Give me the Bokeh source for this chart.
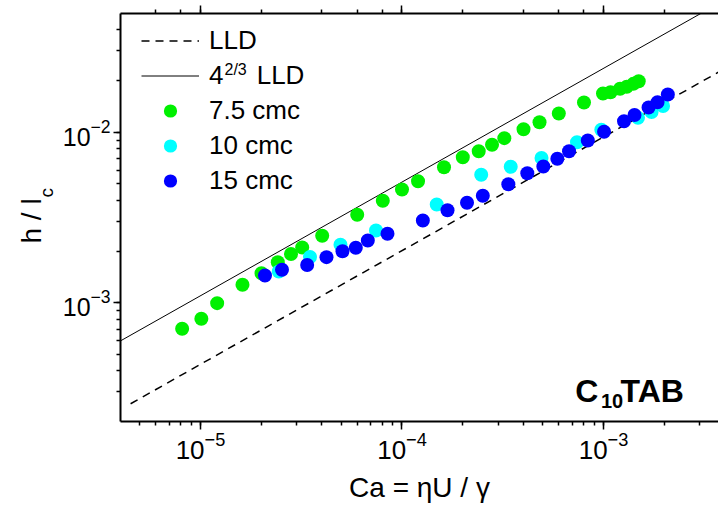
import math
from bokeh.plotting import figure
from bokeh.models import LogAxis, Legend, LegendItem, Label, Range1d
from bokeh.embed import file_html
from bokeh.resources import INLINE

# ---- data ----
ca_75 = [8.11e-6, 1.01e-5, 1.21e-5, 1.616e-5, 2.008e-5, 2.419e-5, 2.813e-5, 3.197e-5,
         4.018e-5, 5.995e-5, 8.03e-5, 1.0e-4, 1.201e-4, 1.616e-4, 2.003e-4, 2.403e-4,
         2.797e-4, 3.219e-4, 4.009e-4, 4.813e-4, 6.0e-4, 8.0e-4, 9.94e-4, 1.083e-3,
         1.208e-3, 1.304e-3, 1.406e-3, 1.495e-3]
h_75 = [7.04e-4, 8.06e-4, 9.95e-4, 1.275e-3, 1.491e-3, 1.730e-3, 1.932e-3, 2.110e-3,
        2.47e-3, 3.284e-3, 3.967e-3, 4.615e-3, 5.162e-3, 6.227e-3, 7.137e-3, 7.727e-3,
        8.44e-3, 9.23e-3, 1.040e-2, 1.144e-2, 1.287e-2, 1.493e-2, 1.686e-2, 1.716e-2,
        1.797e-2, 1.848e-2, 1.921e-2, 1.988e-2]

ca_10 = [2.447e-5, 3.495e-5, 4.952e-5, 7.43e-5, 1.487e-4, 2.472e-4, 3.464e-4, 4.924e-4,
         7.386e-4, 9.75e-4, 1.483e-3, 1.731e-3, 1.974e-3]
h_10 = [1.526e-3, 1.856e-3, 2.188e-3, 2.653e-3, 3.769e-3, 5.628e-3, 6.268e-3, 7.06e-3,
        8.74e-3, 1.034e-2, 1.214e-2, 1.314e-2, 1.424e-2]

ca_15 = [2.09e-5, 2.538e-5, 3.384e-5, 4.22e-5, 5.066e-5, 5.899e-5, 6.767e-5, 8.472e-5,
         1.269e-4, 1.682e-4, 2.102e-4, 2.518e-4, 3.37e-4, 4.186e-4, 5.027e-4, 5.9e-4,
         6.743e-4, 8.357e-4, 1.006e-3, 1.264e-3, 1.425e-3, 1.673e-3, 1.854e-3, 2.085e-3]
h_15 = [1.445e-3, 1.561e-3, 1.666e-3, 1.851e-3, 2.006e-3, 2.101e-3, 2.318e-3, 2.538e-3,
        3.037e-3, 3.49e-3, 3.862e-3, 4.238e-3, 4.957e-3, 5.75e-3, 6.293e-3, 6.994e-3,
        7.727e-3, 8.94e-3, 1.007e-2, 1.160e-2, 1.261e-2, 1.395e-2, 1.497e-2, 1.663e-2]

# reference lines (end points)
lld_ca = [4.5e-6, 3.72e-3]
lld_h = [2.56e-4, 2.25e-2]
lld4_ca = [3.9e-6, 3.2e-3]
lld4_h = [5.87e-4, 5.14e-2]

series_labels = ["LLD", "4\u2003\u00a0LLD", "7.5 cmc", "10 cmc", "15 cmc"]
series_colors = ["#00F000", "#00FFFF", "#0000FF"]

x_range = (4.01e-6, 3.72e-3)
y_range = (2.014e-4, 4.964e-2)

FONT = "Liberation Sans"

p = figure(width=718, height=513, x_axis_type="log", y_axis_type="log",
           x_range=Range1d(*x_range), y_range=Range1d(*y_range),
           output_backend="svg", toolbar_location=None,
           min_border_left=120, min_border_right=0, min_border_top=13, min_border_bottom=92)
p.outline_line_color = None
p.grid.visible = False
p.background_fill_color = "white"
p.border_fill_color = "white"

# axes styling
for ax in (p.xaxis[0], p.yaxis[0]):
    ax.axis_line_width = 2
    ax.major_tick_line_width = 1.5
    ax.minor_tick_line_width = 1.5
    ax.major_tick_in = 0
    ax.minor_tick_in = 0
    ax.major_label_text_font = FONT
    ax.major_label_text_color = "black"
    ax.axis_label_text_font = FONT
    ax.axis_label_text_font_size = "28px"
    ax.axis_label_text_font_style = "normal"
    ax.axis_label_text_color = "black"

p.xaxis[0].major_label_text_font_size = "26px"
p.xaxis[0].major_tick_out = 8
p.xaxis[0].minor_tick_out = 4
p.xaxis[0].major_label_standoff = 2
p.xaxis[0].axis_label = "Ca = \u03b7U / \u03b3"
p.xaxis[0].axis_label_standoff = 10

p.yaxis[0].major_label_text_font_size = "25px"
p.yaxis[0].major_tick_out = 7
p.yaxis[0].minor_tick_out = 4
p.yaxis[0].major_label_standoff = 3

# mirrored top axis: tick marks only (labels not drawn)
top = LogAxis(axis_line_width=2, major_tick_in=0, minor_tick_in=0,
              major_tick_out=8, minor_tick_out=4,
              major_tick_line_width=1.5, minor_tick_line_width=1.5,
              major_label_text_font_size="1px", major_label_text_color=None,
              major_label_standoff=0)
p.add_layout(top, "above")

# lines
r_lld = p.line(lld_ca, lld_h, line_color="black", line_width=1.5, line_dash="8 6")
r_lld4 = p.line(lld4_ca, lld4_h, line_color="black", line_width=1)

# data points
r75 = p.scatter(ca_75, h_75, size=14, marker="circle", fill_color=series_colors[0], line_color=None)
r10 = p.scatter(ca_10, h_10, size=14, marker="circle", fill_color=series_colors[1], line_color=None)
r15 = p.scatter(ca_15, h_15, size=14, marker="circle", fill_color=series_colors[2], line_color=None)

legend = Legend(items=[LegendItem(label=series_labels[0], renderers=[r_lld]),
                       LegendItem(label=series_labels[1], renderers=[r_lld4]),
                       LegendItem(label=series_labels[2], renderers=[r75]),
                       LegendItem(label=series_labels[3], renderers=[r10]),
                       LegendItem(label=series_labels[4], renderers=[r15])],
                location=(21, 224.5), padding=0, margin=0, spacing=2,
                glyph_height=33, glyph_width=58, label_standoff=10, label_height=20,
                label_text_font=FONT, label_text_font_size="26px", label_text_color="black",
                background_fill_alpha=0, border_line_alpha=0)
p.add_layout(legend)

# superscript of 4^(2/3)
p.add_layout(Label(x=104, y=352, x_units="screen", y_units="screen", text="2/3",
                   text_font=FONT, text_font_size="16px", text_color="black",
                   text_baseline="alphabetic"))

# y-axis title "h / l" with subscript c (side panels, positioned with the plot's scales)
px_per_dec_x = 201.5
px_per_dec_y = 170.6
ylab_x = x_range[0] * 10 ** (-(120 - 31) / px_per_dec_x)
ylab_y = 10 ** (-2 - (243 - 131.7) / px_per_dec_y)
p.add_layout(Label(x=ylab_x, y=ylab_y, text="h / l", angle=math.pi / 2,
                   text_font=FONT, text_font_size="28px",
                   text_color="black", text_baseline="alphabetic", text_align="left"), "left")
c_x = x_range[0] * 10 ** (-(120 - 46) / px_per_dec_x)
c_y = 10 ** (-2 - (197 - 131.7) / px_per_dec_y)
p.add_layout(Label(x=c_x, y=c_y, text="c", angle=math.pi / 2,
                   text_font=FONT, text_font_size="19px",
                   text_color="black", text_baseline="alphabetic", text_align="left"), "left")

# C10TAB annotation
p.add_layout(Label(x=454.7, y=31, x_units="screen", y_units="screen", text="C",
                   text_font=FONT, text_font_size="32px", text_font_style="bold",
                   text_color="black", text_baseline="alphabetic"))
p.add_layout(Label(x=480.5, y=21, x_units="screen", y_units="screen", text="10",
                   text_font=FONT, text_font_size="20px", text_font_style="bold",
                   text_color="black", text_baseline="alphabetic"))
p.add_layout(Label(x=500, y=31, x_units="screen", y_units="screen", text="TAB",
                   text_font=FONT, text_font_size="32px", text_font_style="bold",
                   text_color="black", text_baseline="alphabetic"))

open("out.html", "w").write(file_html(p, INLINE))
